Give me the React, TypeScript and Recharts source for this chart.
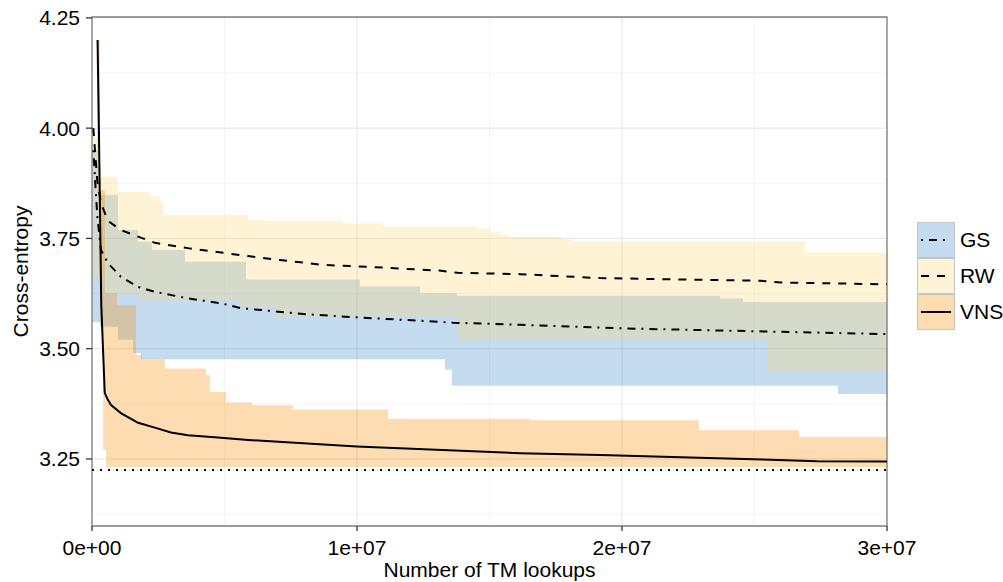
import React from 'react';
import { ComposedChart, Area, Line, XAxis, YAxis, CartesianGrid, ReferenceLine, ReferenceArea, Label } from 'recharts';

const W = 1003;
const H = 582;

// x values are in millions of TM lookups

// GS: min/max band and mean curve
const gsBandX = [0, 0.3, 0.98, 1.55, 1.74, 1.85, 2.26, 3.51, 5.81, 10.11, 12.38, 13.32, 13.58, 13.77, 23.7, 24.57, 28.15, 30];
const gsBandLo = [3.56, 3.55, 3.52, 3.49, 3.49, 3.476, 3.476, 3.476, 3.476, 3.476, 3.476, 3.452, 3.416, 3.416, 3.416, 3.416, 3.397, 3.397];
const gsBandHi = [3.95, 3.849, 3.769, 3.769, 3.743, 3.743, 3.724, 3.697, 3.657, 3.641, 3.626, 3.626, 3.626, 3.62, 3.614, 3.606, 3.606, 3.606];
const gsLineX = [0.05, 0.2, 0.34, 0.6, 1.09, 1.74, 2.37, 3.62, 4.87, 5.6, 8.1, 9.99, 11.88, 13.62, 16.15, 20.04, 25.47, 30];
const gsLineY = [3.95, 3.8, 3.724, 3.694, 3.663, 3.64, 3.629, 3.614, 3.603, 3.592, 3.578, 3.571, 3.565, 3.559, 3.554, 3.546, 3.539, 3.533];

// RW
const rwBandX = [0, 0.3, 0.49, 0.98, 1.74, 2.19, 2.57, 2.68, 5.58, 5.89, 6.45, 6.9, 9.47, 10.98, 13.77, 14.53, 15.02, 15.4, 15.77, 17.74, 18.11, 25.47, 26.9, 30];
const rwBandLo = [3.667, 3.667, 3.626, 3.626, 3.61, 3.61, 3.61, 3.61, 3.595, 3.595, 3.595, 3.573, 3.573, 3.573, 3.52, 3.52, 3.52, 3.52, 3.52, 3.52, 3.52, 3.448, 3.448, 3.448];
const rwBandHi = [3.98, 3.89, 3.89, 3.856, 3.856, 3.845, 3.833, 3.803, 3.803, 3.793, 3.79, 3.79, 3.784, 3.777, 3.777, 3.772, 3.765, 3.758, 3.754, 3.748, 3.743, 3.743, 3.718, 3.718];
const rwLineX = [0.05, 0.2, 0.34, 0.6, 1.09, 1.74, 2.37, 3.62, 4.87, 5.89, 7.09, 8.72, 10.6, 13.1, 13.8, 16.15, 19.17, 25.2, 26.0, 30];
const rwLineY = [4.0, 3.88, 3.83, 3.79, 3.769, 3.754, 3.74, 3.728, 3.718, 3.71, 3.701, 3.69, 3.685, 3.677, 3.672, 3.669, 3.66, 3.654, 3.65, 3.646];

// VNS
const vnsBandX = [0.2, 0.3, 0.42, 0.49, 0.53, 0.94, 1.66, 1.89, 2.75, 4.3, 4.45, 5.06, 6.04, 7.58, 11.17, 16.53, 22.9, 26.68, 30];
const vnsBandLo = [3.95, 3.56, 3.27, 3.27, 3.232, 3.232, 3.232, 3.232, 3.232, 3.232, 3.232, 3.232, 3.232, 3.232, 3.232, 3.232, 3.232, 3.232, 3.232];
const vnsBandHi = [4.2, 3.86, 3.86, 3.626, 3.626, 3.599, 3.486, 3.476, 3.455, 3.44, 3.402, 3.378, 3.372, 3.362, 3.341, 3.338, 3.315, 3.3, 3.3];
const vnsLineX = [0.21, 0.26, 0.35, 0.48, 0.6, 0.72, 1.09, 1.74, 2.37, 2.98, 3.62, 4.87, 5.89, 9.99, 16.15, 19.17, 25.3, 27.36, 30];
const vnsLineY = [4.2, 4.0, 3.6, 3.4, 3.384, 3.372, 3.354, 3.332, 3.321, 3.31, 3.304, 3.298, 3.293, 3.278, 3.263, 3.259, 3.249, 3.245, 3.244];

const optimum = 3.225;

const xTicks = [0, 1e7, 2e7, 3e7];
const xTickLabels = ['0e+00', '1e+07', '2e+07', '3e+07'];
const xMinor = [5e6, 1.5e7, 2.5e7];
const yTicks = [3.25, 3.5, 3.75, 4.0, 4.25];
const yTickLabels = ['3.25', '3.50', '3.75', '4.00', '4.25'];
const yMinor = [3.125, 3.375, 3.625, 3.875, 4.125];
const xDomain = [0, 3e7];
const yDomain = [3.098, 4.252];

const band = (xs: number[], lo: number[], hi: number[]) => xs.map((x, i) => ({ x: x * 1e6, range: [lo[i], hi[i]] }));
const curve = (xs: number[], ys: number[]) => xs.map((x, i) => ({ x: x * 1e6, y: ys[i] }));

const FONT = '"Liberation Sans", Arial, sans-serif';
const FS = 21;

const series = [
  { name: 'GS', fill: '#3e87cd', dash: '2 6 8 6', band: band(gsBandX, gsBandLo, gsBandHi), line: curve(gsLineX, gsLineY) },
  { name: 'RW', fill: '#ffd773', dash: '8 8', band: band(rwBandX, rwBandLo, rwBandHi), line: curve(rwLineX, rwLineY) },
  { name: 'VNS', fill: '#f88a00', dash: undefined, band: band(vnsBandX, vnsBandLo, vnsBandHi), line: curve(vnsLineX, vnsLineY) },
];

function LegendBox() {
  return (
    <div style={{ position: 'absolute', left: 917, top: 222, fontFamily: FONT, fontSize: FS }}>
      {series.map((s) => (
        <div key={s.name} style={{ display: 'flex', alignItems: 'center', height: 36 }}>
          <svg width={38} height={36}>
            <rect x={0.5} y={0.5} width={37} height={35} fill="#fff" stroke="none" />
            <rect x={0.5} y={0.5} width={37} height={35} fill={s.fill} fillOpacity={0.3} stroke="#c4c4c4" strokeWidth={1} />
            <line x1={4} x2={34} y1={18} y2={18} stroke="#000" strokeWidth={2} strokeDasharray={s.dash} />
          </svg>
          <span style={{ marginLeft: 5 }}>{s.name}</span>
        </div>
      ))}
    </div>
  );
}

export default function App() {
  return (
    <div style={{ position: 'absolute', left: 0, top: 0, width: W, height: H, background: '#fff', fontFamily: FONT }}>
      <ComposedChart width={W} height={H} margin={{ top: 17, right: 116, bottom: 0, left: 0 }}>
        <CartesianGrid stroke="#f4f4f4" strokeWidth={1} horizontalValues={yMinor} verticalValues={xMinor} />
        <CartesianGrid stroke="#e4e4e4" strokeWidth={1} />
        <XAxis
          type="number"
          dataKey="x"
          domain={xDomain}
          ticks={xTicks}
          tickFormatter={(v: number) => xTickLabels[xTicks.indexOf(v)]}
          allowDataOverflow
          axisLine={false}
          tickSize={5}
          tickMargin={9}
          height={56}
          tick={{ fill: '#000', fontSize: FS, fontFamily: FONT }}
          tickLine={{ stroke: '#333', strokeWidth: 1.3 }}
        >
          <Label value="Number of TM lookups" position="insideBottom" offset={5} style={{ fill: '#000', fontSize: FS, fontFamily: FONT }} />
        </XAxis>
        <YAxis
          type="number"
          domain={yDomain}
          ticks={yTicks}
          tickFormatter={(v: number) => yTickLabels[yTicks.indexOf(v)]}
          allowDataOverflow
          axisLine={false}
          tickSize={6}
          tickMargin={6}
          width={92}
          tick={{ fill: '#000', fontSize: FS, fontFamily: FONT }}
          tickLine={{ stroke: '#333', strokeWidth: 1.3 }}
        >
          <Label
            content={(props: any) => {
              const vb = props.viewBox || {};
              const cx = (vb.x || 0) + 20;
              const cy = (vb.y || 0) + (vb.height || 0) / 2;
              return (
                <text x={cx} y={cy} transform={`rotate(-90 ${cx} ${cy})`} textAnchor="middle" dominantBaseline="central" fill="#000" fontSize={FS} fontFamily={FONT}>
                  Cross-entropy
                </text>
              );
            }}
          />
        </YAxis>
        {series.map((s) => (
          <Area
            key={'band-' + s.name}
            data={s.band}
            dataKey="range"
            type="stepAfter"
            fill={s.fill}
            fillOpacity={0.3}
            stroke="none"
            isAnimationActive={false}
          />
        ))}
        <ReferenceLine y={optimum} stroke="#000" strokeWidth={2} strokeDasharray="2 6" />
        {series.map((s) => (
          <Line
            key={'line-' + s.name}
            data={s.line}
            dataKey="y"
            type="linear"
            stroke="#000"
            strokeWidth={2}
            strokeDasharray={s.dash}
            dot={false}
            activeDot={false}
            isAnimationActive={false}
          />
        ))}
        <ReferenceArea x1={xDomain[0]} x2={xDomain[1]} y1={yDomain[0]} y2={yDomain[1]} fill="none" stroke="#808080" strokeWidth={1.3} />
      </ComposedChart>
      <LegendBox />
    </div>
  );
}
